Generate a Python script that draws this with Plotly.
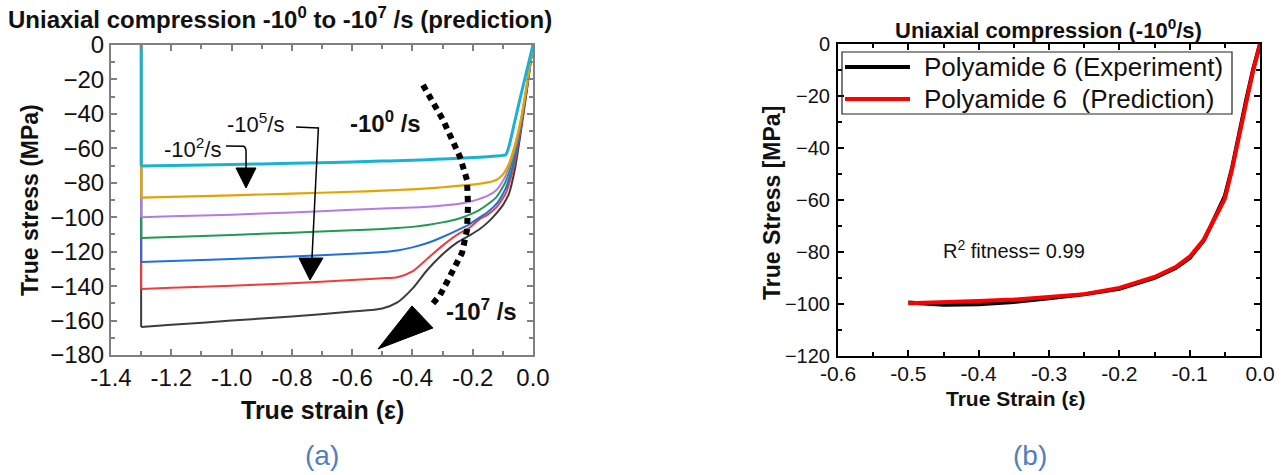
import plotly.graph_objects as go

W, H = 1281, 475

# ---------------- Panel (a) data ----------------
STRAIN_A = [0, -0.02, -0.04, -0.06, -0.08, -0.09, -0.1, -0.12, -0.15, -0.18, -0.21,
            -0.25, -0.3, -0.35, -0.4, -0.45, -0.5, -0.6, -0.8, -1.0, -1.2, -1.3, -1.3]
STRESS_BLACK = [0, -26, -50, -72, -86.5, -90, -93, -97.5, -103, -107.3, -110.5, -114.5, -121.5,
                -130.5, -141.5, -149.5, -153, -154.8, -157.6, -160, -162.5, -163.7, 0]
STRESS_RED = [0, -25, -48, -68, -81, -86, -89, -94, -98.5, -101.5, -106, -110, -116.5,
              -124, -131.5, -134.8, -135.4, -136.5, -138.3, -139.8, -141, -141.7, 0]
STRESS_BLUE = [0, -24, -46, -65, -78, -83, -86.5, -92, -97, -100.5, -104, -107.5, -111.5,
               -115, -117.5, -119.3, -120.2, -121.2, -122.8, -124.2, -125.4, -126, 0]
STRESS_GREEN = [0, -23.5, -45, -62, -74, -79, -82.5, -88, -92.5, -96, -98.5, -101, -103,
                -104.5, -105.6, -106.3, -106.8, -107.6, -109, -110.3, -111.5, -112, 0]
STRESS_PURPLE = [0, -23, -44, -60, -71, -75.5, -79, -84, -87.5, -89.5, -91, -92.3, -93.2,
                 -93.9, -94.4, -94.7, -95, -95.7, -97.2, -98.5, -99.5, -100, 0]
STRESS_ORANGE = [0, -22.5, -43, -58, -69, -72.5, -75.2, -78.2, -79.8, -80.6, -81.2, -81.8,
                 -82.6, -83.2, -83.8, -84.2, -84.6, -85.2, -86.3, -87.3, -88.2, -88.6, 0]
STRESS_CYAN = [0, -14.5, -29, -44, -59, -63.6, -64.1, -64.5, -64.9, -65.2, -65.5, -65.8,
               -66.2, -66.6, -66.9, -67.2, -67.4, -67.9, -68.7, -69.4, -70, -70.3, 0]

SERIES_A = [STRESS_BLACK, STRESS_RED, STRESS_BLUE, STRESS_GREEN,
            STRESS_PURPLE, STRESS_ORANGE, STRESS_CYAN]
COLORS_A = ["#3c3c3c", "#f03c3c", "#1f6fdc", "#1f9a52", "#b47ae6", "#e6a200", "#19b2d2"]
WIDTHS_A = [2, 2, 2, 2, 2, 2.2, 3]

# ---------------- Panel (b) data ----------------
STRAIN_B = [0, -0.01, -0.02, -0.03, -0.04, -0.05, -0.06, -0.07, -0.08, -0.1, -0.12,
            -0.15, -0.2, -0.25, -0.3, -0.35, -0.4, -0.45, -0.5]
STRESS_EXP = [0, -10, -22, -35, -48, -58.5, -64.5, -70, -75.5, -82.3, -86.2, -90, -94.2,
              -96.3, -97.8, -99.2, -100.1, -100.3, -99.4]
STRESS_PRED = [0, -10.5, -23, -36, -48.5, -59.5, -65, -70.3, -75.3, -81.8, -85.8, -89.6,
               -93.8, -96.2, -97.4, -98.3, -98.8, -99.2, -99.7]
LEGEND_B = ["Polyamide 6 (Experiment)", "Polyamide 6&nbsp; (Prediction)"]

X_TICKS_A = [-1.4, -1.2, -1.0, -0.8, -0.6, -0.4, -0.2, 0.0]
Y_TICKS_A = [0, -20, -40, -60, -80, -100, -120, -140, -160, -180]
X_TICKS_B = [-0.6, -0.5, -0.4, -0.3, -0.2, -0.1, 0.0]
Y_TICKS_B = [0, -20, -40, -60, -80, -100, -120]

FONT = "Liberation Sans, Arial, sans-serif"


def px(x):
    return x / W


def py(y):
    return 1 - y / H


fig = go.Figure()

for ys, c, w in zip(SERIES_A, COLORS_A, WIDTHS_A):
    # loading branch (smooth) and the vertical unloading segment at the last strain
    fig.add_trace(go.Scatter(x=STRAIN_A[:-1], y=ys[:-1], mode="lines",
                             line=dict(color=c, width=w, shape="spline", smoothing=0.7),
                             xaxis="x", yaxis="y", showlegend=False, hoverinfo="skip"))
    fig.add_trace(go.Scatter(x=STRAIN_A[-2:], y=ys[-2:], mode="lines",
                             line=dict(color=c, width=w),
                             xaxis="x", yaxis="y", showlegend=False, hoverinfo="skip"))

fig.add_trace(go.Scatter(x=STRAIN_B, y=STRESS_EXP, mode="lines",
                         line=dict(color="#000000", width=4), xaxis="x2", yaxis="y2",
                         showlegend=False, hoverinfo="skip"))
fig.add_trace(go.Scatter(x=STRAIN_B, y=STRESS_PRED, mode="lines",
                         line=dict(color="#ff0000", width=4), xaxis="x2", yaxis="y2",
                         showlegend=False, hoverinfo="skip"))

tickfont_a = dict(family=FONT, size=24, color="#111111")
tickfont_b = dict(family=FONT, size=20, color="#111111")
tickfont_bx = dict(family=FONT, size=21, color="#111111")

fig.update_layout(
    template="none",
    width=W, height=H,
    margin=dict(l=0, r=0, t=0, b=0, pad=0, autoexpand=False),
    paper_bgcolor="white", plot_bgcolor="white",
    xaxis=dict(domain=[px(111), px(533)], range=[-1.4, 0], anchor="y", automargin=False,
               tickvals=X_TICKS_A, ticktext=[f"{v:.1f}" for v in X_TICKS_A],
               ticks="inside", ticklen=6, tickwidth=1.5, tickcolor="#808080",
               minor=dict(dtick=0.1, ticks="inside", ticklen=4, tickcolor="#808080"),
               showline=True, linecolor="#808080", linewidth=2, mirror="ticks",
               showgrid=False, zeroline=False, tickfont=tickfont_a),
    yaxis=dict(domain=[py(355), py(45)], range=[-180, 0], anchor="x", automargin=False,
               tickvals=Y_TICKS_A, ticks="inside", ticklen=6, tickwidth=1.5,
               tickcolor="#808080",
               minor=dict(dtick=10, ticks="inside", ticklen=4, tickcolor="#808080"),
               showline=True, linecolor="#808080", linewidth=2, mirror="ticks",
               showgrid=False, zeroline=False, tickfont=tickfont_a),
    xaxis2=dict(domain=[px(838), px(1260)], range=[-0.6, 0], anchor="y2", automargin=False,
                tickvals=X_TICKS_B, ticktext=[f"{v:.1f}" for v in X_TICKS_B],
                ticks="inside", ticklen=6, tickwidth=2, tickcolor="#000000",
                minor=dict(dtick=0.05, ticks="inside", ticklen=4, tickcolor="#000000"),
                showline=True, linecolor="#000000", linewidth=2, mirror="ticks",
                showgrid=False, zeroline=False, tickfont=tickfont_bx,
                ticklabelstandoff=-2),
    yaxis2=dict(domain=[py(356), py(44)], range=[-120, 0], anchor="x2", automargin=False,
                tickvals=Y_TICKS_B, ticks="inside", ticklen=6, tickwidth=2,
                tickcolor="#000000",
                minor=dict(dtick=10, ticks="inside", ticklen=4, tickcolor="#000000"),
                showline=True, linecolor="#000000", linewidth=2, mirror="ticks",
                showgrid=False, zeroline=False, tickfont=tickfont_b,
                ticklabelstandoff=2),
)

ann = []


def text(x, y, s, size, bold=False, color="#111111", xanchor="center", angle=0,
         xref="paper", yref="paper"):
    ann.append(dict(x=x, y=y, xref=xref, yref=yref, text=f"<b>{s}</b>" if bold else s,
                    showarrow=False, xanchor=xanchor, yanchor="middle", textangle=angle,
                    font=dict(family=FONT, size=size, color=color)))


# titles
text(px(6), py(18), "Uniaxial compression -10<sup>0</sup> to -10<sup>7</sup> /s (prediction)",
     24, bold=True, xanchor="left")
text(px(1048), py(29), "Uniaxial compression (-10<sup>0</sup>/s)", 22, bold=True)
# axis titles
text(px(30), py(200), "True stress (MPa)", 23, bold=True, angle=-90)
text(px(322), py(410), "True strain (ε)", 25, bold=True)
text(px(772), py(203), "True Stress [MPa]", 23, bold=True, angle=-90)
text(px(1015), py(398), "True Strain (ε)", 21, bold=True)
# captions
text(px(322), py(455), "(a)", 28, color="#4f81bd")
text(px(1030), py(455), "(b)", 28, color="#4f81bd")

# panel (a) labels
text(-1.131, -59.8, "-10<sup>2</sup>/s", 22, xref="x", yref="y")
text(-0.922, -45.3, "-10<sup>5</sup>/s", 22, xref="x", yref="y")
text(-0.491, -44.7, "-10<sup>0</sup> /s", 24, bold=True, xref="x", yref="y")
text(-0.172, -153.9, "-10<sup>7</sup> /s", 24, bold=True, xref="x", yref="y")

# panel (b) label
text(-0.35, -79.2, "R<sup>2</sup> fitness= 0.99", 20, xref="x2", yref="y2")

# manual legend (panel b)
text(px(922), py(67), LEGEND_B[0], 26, xanchor="left")
text(px(922), py(99), LEGEND_B[1], 26, xanchor="left")

fig.update_layout(annotations=ann)

shapes = []
# dotted arrow
dots = [(-0.3649, -23.2), (-0.2986, -43.5), (-0.2422, -65.0), (-0.2190, -78.4),
        (-0.2156, -92.9), (-0.2190, -107.4), (-0.2356, -120.8), (-0.2820, -136.5),
        (-0.3085, -145.2), (-0.3417, -152.1)]
path = "M " + " L ".join(f"{x},{y}" for x, y in dots)
shapes.append(dict(type="path", path=path, xref="x", yref="y",
                   line=dict(color="black", width=6, dash="6px,5px")))
shapes.append(dict(type="path", path="M -0.5142,-176.5 L -0.4014,-151.5 L -0.3318,-164.3 Z",
                   xref="x", yref="y", fillcolor="black", line=dict(color="black", width=1)))
# -10^2 arrow
shapes.append(dict(type="path", path="M -1.0185,-58.6 L -0.96,-58.8 Q -0.952,-59.5 -0.952,-62 L -0.952,-71.4",
                   xref="x", yref="y", line=dict(color="black", width=1.5)))
shapes.append(dict(type="path", path="M -0.9853,-71.4 L -0.919,-71.4 L -0.9521,-83.0 Z",
                   xref="x", yref="y", fillcolor="black", line=dict(color="black", width=1)))
# -10^5 arrow
shapes.append(dict(type="path", path="M -0.7863,-47.6 L -0.712,-48.2 L -0.7332,-123.7",
                   xref="x", yref="y", line=dict(color="black", width=1.5)))
shapes.append(dict(type="path", path="M -0.7763,-123.7 L -0.6967,-123.7 L -0.7398,-136.5 Z",
                   xref="x", yref="y", fillcolor="black", line=dict(color="black", width=1)))
# legend box and samples (panel b)
shapes.append(dict(type="rect", xref="paper", yref="paper", x0=px(842), x1=px(1232),
                   y0=py(114), y1=py(52), line=dict(color="#222222", width=1.2)))
shapes.append(dict(type="line", xref="paper", yref="paper", x0=px(845), x1=px(910),
                   y0=py(67), y1=py(67), line=dict(color="black", width=4)))
shapes.append(dict(type="line", xref="paper", yref="paper", x0=px(845), x1=px(910),
                   y0=py(99), y1=py(99), line=dict(color="#ff0000", width=4)))

fig.update_layout(shapes=shapes)

fig.write_html("out.html", config={"displayModeBar": False},
               post_script="document.body.style.margin='0';")
